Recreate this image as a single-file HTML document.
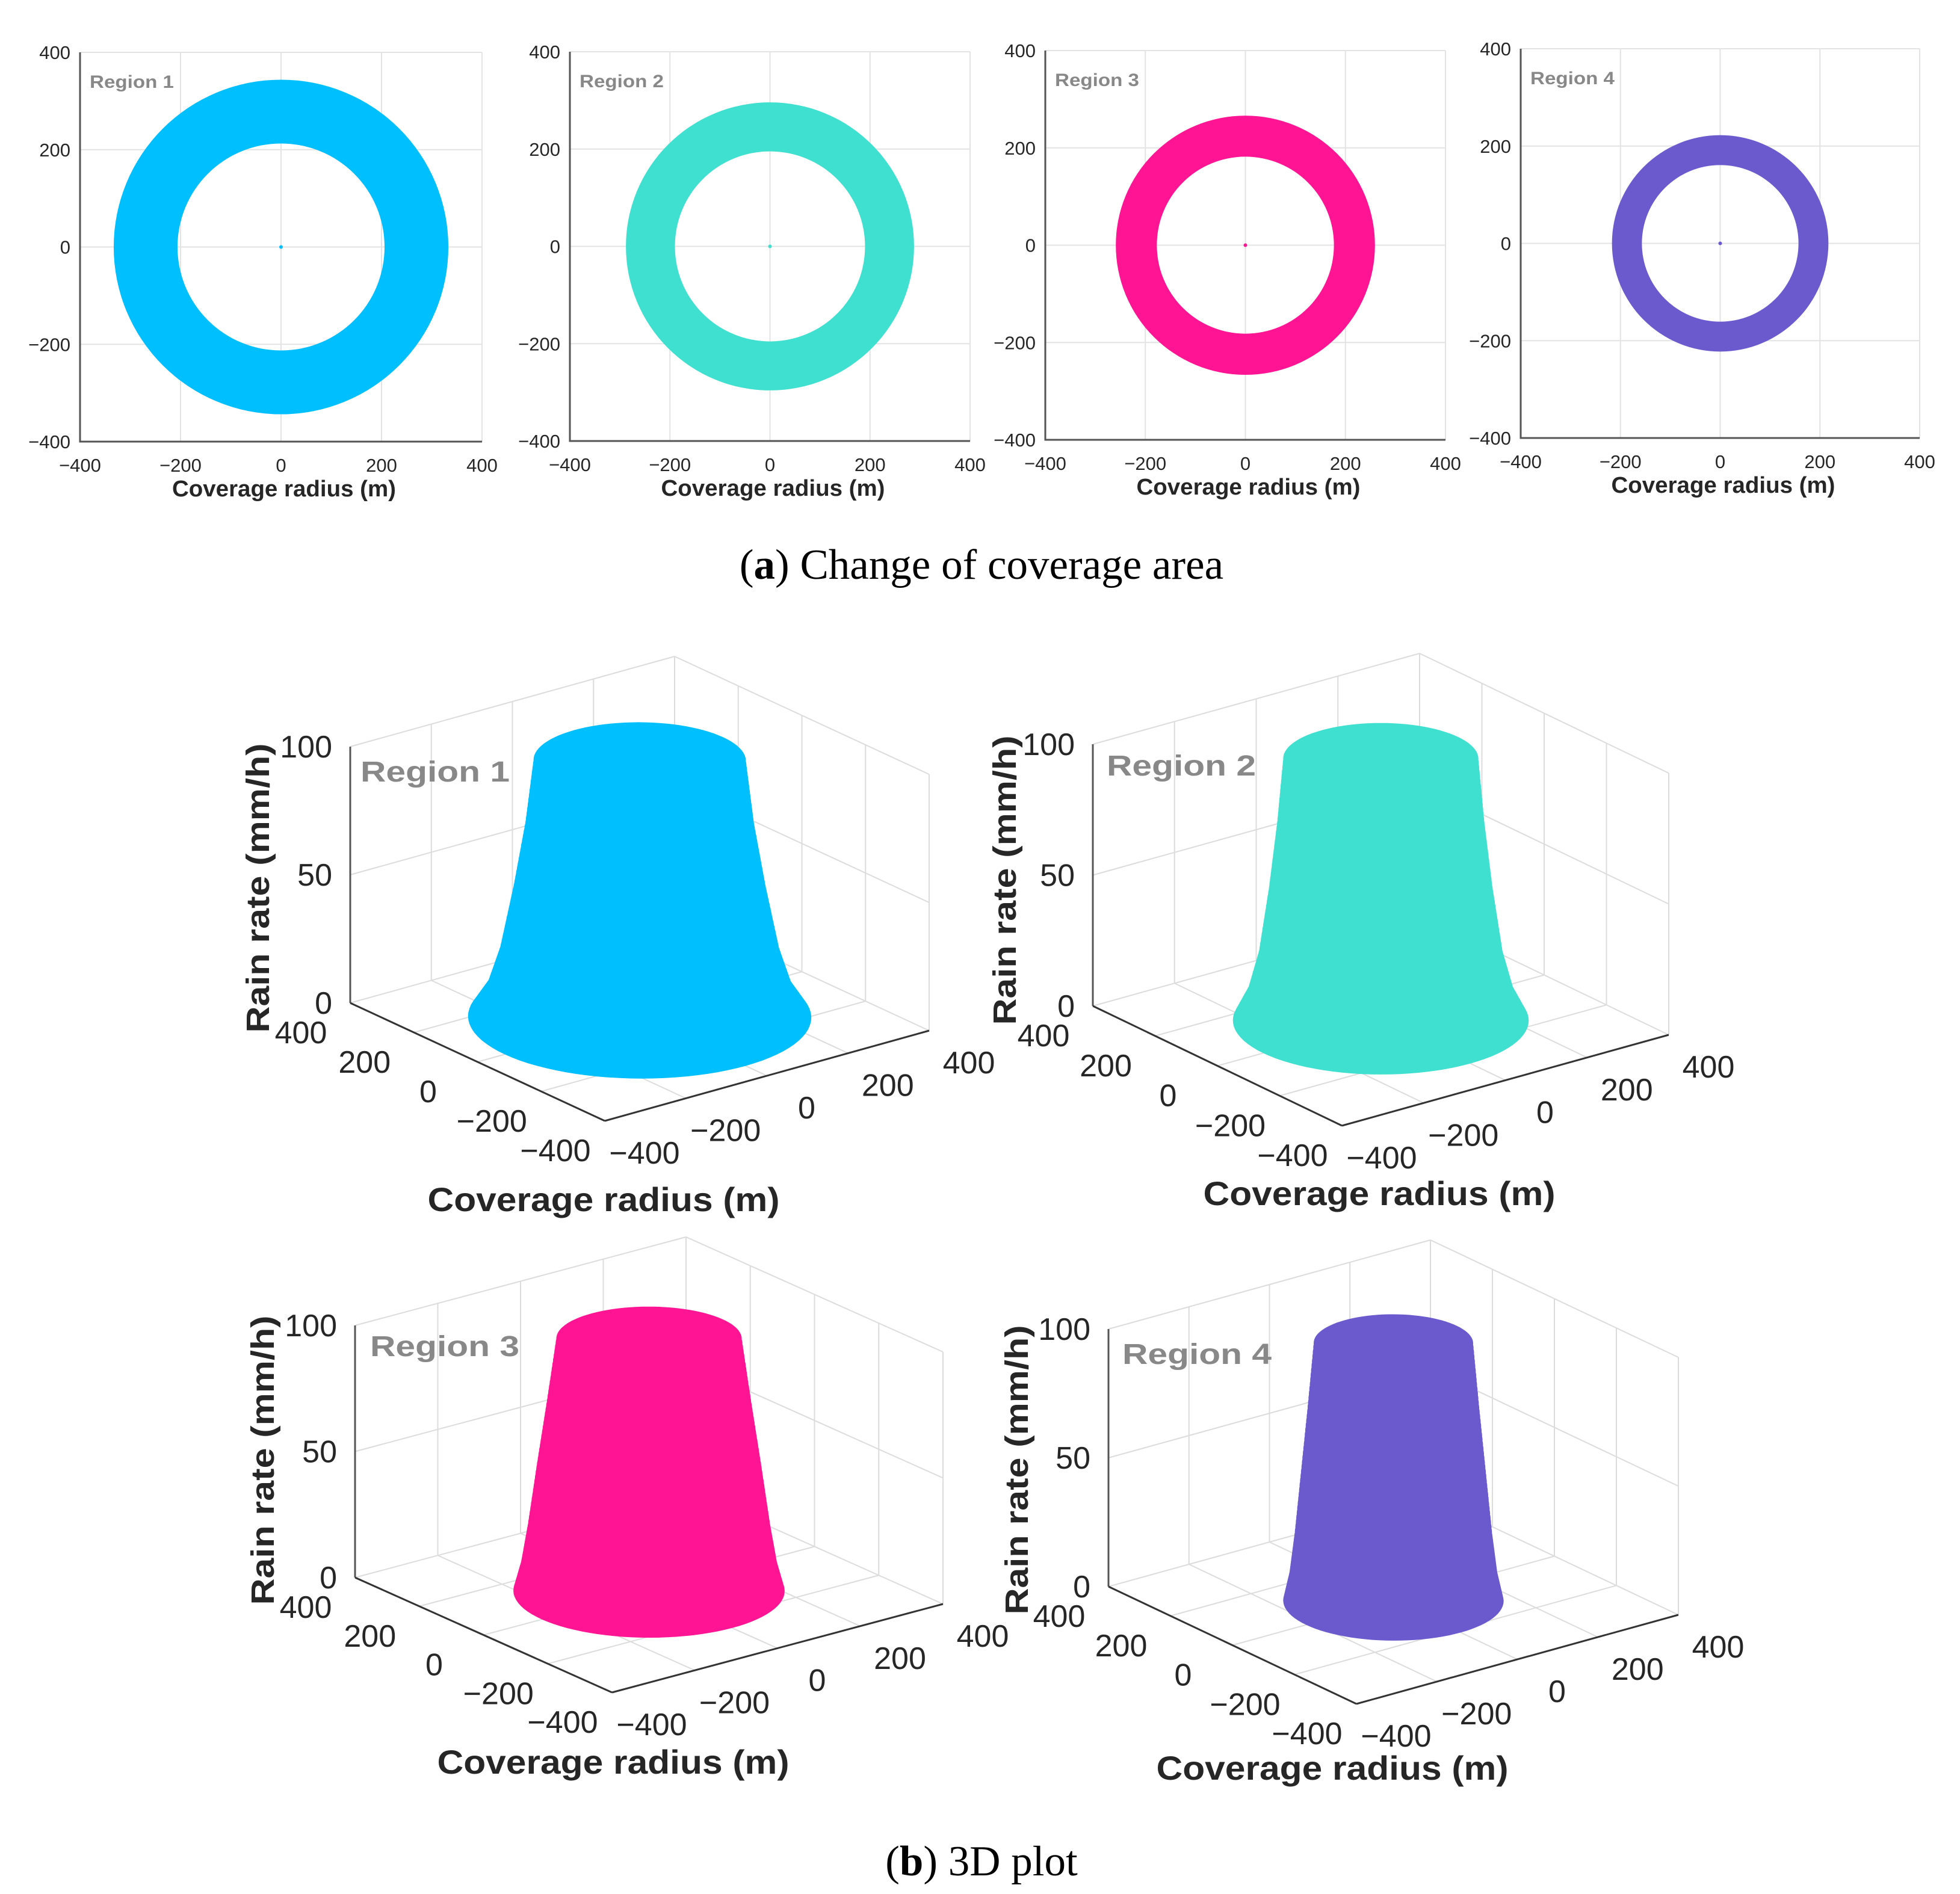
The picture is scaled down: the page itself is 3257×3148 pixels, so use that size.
<!DOCTYPE html>
<html><head><meta charset="utf-8"><style>
html,body{margin:0;padding:0;background:#fff;}
svg{display:block;font-family:"Liberation Sans",sans-serif;}
</style></head><body>
<svg id="fig" width="3257" height="3148" viewBox="0 0 3257 3148" xmlns="http://www.w3.org/2000/svg">
<text x="1631" y="962" font-family="Liberation Serif, serif" font-size="71" text-anchor="middle" fill="#000">(<tspan font-weight="bold">a</tspan>) Change of coverage area</text>
<text x="1631" y="3117" font-family="Liberation Serif, serif" font-size="71" text-anchor="middle" fill="#000">(<tspan font-weight="bold">b</tspan>) 3D plot</text>
</svg>
<script>
// ---- data ----
const regionNames = ["Region 1","Region 2","Region 3","Region 4"];
const regionColors = ["#00BFFF","#40E0D0","#FF1493","#6A5ACD"];
const rainLevels = [100, 75, 50, 25, 10, 0];
const radiusR1 = [206, 222, 245, 272, 298, 333];
const radiusR2 = [190, 202, 218, 238, 260, 288];
const radiusR3 = [177, 195, 214, 232, 245, 259];
const radiusR4 = [157, 169, 182, 195, 205, 217];
const radiusProfiles = [radiusR1, radiusR2, radiusR3, radiusR4];
const xyTicks = [-400, -200, 0, 200, 400];
const zTicks = [0, 50, 100];

const NS = "http://www.w3.org/2000/svg";
const svg = document.getElementById('fig');
function mk(tag, attrs, parent){
  const e = document.createElementNS(NS, tag);
  for (const k in attrs) e.setAttribute(k, attrs[k]);
  (parent||svg).appendChild(e);
  return e;
}
const fmt = v => (v<0 ? "\u2212"+Math.abs(v) : ""+v);

// ---- 2D panels ----
const p2d = [
  {l:133, r:801, t:87},
  {l:947, r:1612, t:86},
  {l:1737, r:2402, t:84},
  {l:2527, r:3190, t:81}
];
p2d.forEach((p, i) => {
  const w = p.r - p.l, b = p.t + 647;
  const g = mk('g', {});
  
  
  const sx = v => p.l + (v + 400) / 800 * w;
  const sy = v => b - (v + 400) / 800 * (b - p.t);
  xyTicks.forEach(t => {
    if (t === -400) return;
    const gl = mk('line', {x1:sx(t), y1:p.t, x2:sx(t), y2:b, stroke:"#e3e3e3", "stroke-width":2}, g);
    
    
    const gh = mk('line', {x1:p.l, y1:sy(t), x2:p.r, y2:sy(t), stroke:"#e3e3e3", "stroke-width":2}, g);
    
    
  });
  const prof = radiusProfiles[i];
  const rin = prof[0], rout = prof[prof.length-1];
  const cx = sx(0), cy = sy(0);
  const ro = rout / 800 * w, ri = rin / 800 * w;
  const ring = mk('path', {d:`M${cx-ro},${cy}a${ro},${ro} 0 1,0 ${2*ro},0a${ro},${ro} 0 1,0 ${-2*ro},0Z M${cx-ri},${cy}a${ri},${ri} 0 1,0 ${2*ri},0a${ri},${ri} 0 1,0 ${-2*ri},0Z`, fill:regionColors[i], "fill-rule":"evenodd"}, g);
  
  
  const dot = mk('circle', {cx:cx, cy:cy, r:3, fill:regionColors[i]}, g);
  
  
  const ax = mk('path', {d:`M${p.l},${p.t}V${b}H${p.r}`, fill:"none", stroke:"#555", "stroke-width":3}, g);
  
  
  xyTicks.forEach(t => {
    const tx = mk('text', {x:sx(t), y:b+50, "font-size":31, "text-anchor":"middle", fill:"#262626"}, g);
    
    
    tx.textContent = fmt(t);
    const ty = mk('text', {x:p.l-16, y:sy(t)+11, "font-size":31, "text-anchor":"end", fill:"#262626"}, g);
    
    
    ty.textContent = fmt(t);
  });
  const tt = mk('text', {x:(p.l+p.r)/2+5, y:b+91, "font-size":38, "font-weight":"bold", "text-anchor":"middle", fill:"#262626", textLength:372, lengthAdjust:"spacingAndGlyphs"}, g);
  
  
  tt.textContent = "Coverage radius (m)";
  const rl = mk('text', {x:p.l+16, y:p.t+59, "font-size":30, "font-weight":"bold", fill:"#888", textLength:140, lengthAdjust:"spacingAndGlyphs"}, g);
  
  
  rl.textContent = regionNames[i];
});

// ---- 3D panels ----
const p3d = [
  {L:[582,1667], T:[582,1241], F:[1005,1863], R:[1544,1713], tx:1003, ty:2013, zx:429, zy:1476, rx:599, ry:1299},
  {L:[1816,1672], T:[1816,1237], F:[2230,1871], R:[2773,1720], tx:2292, ty:2003, zx:1670, zy:1463, rx:1839, ry:1289},
  {L:[590,2622], T:[590,2203], F:[1017,2813], R:[1567,2666], tx:1019, ty:2948, zx:437, zy:2427, rx:615, ry:2254},
  {L:[1842,2637], T:[1842,2209], F:[2254,2832], R:[2789,2684], tx:2214, ty:2958, zx:1690, zy:2443, rx:1865, ry:2267}
];
p3d.forEach((p, i) => {
  const g = mk('g', {});
  
  
  const P = (u, v, z) => {
    const a = (u + 400) / 800, c = (v + 400) / 800, h = z / 100;
    return [p.F[0] + a*(p.R[0]-p.F[0]) + c*(p.L[0]-p.F[0]) + h*(p.T[0]-p.L[0]),
            p.F[1] + a*(p.R[1]-p.F[1]) + c*(p.L[1]-p.F[1]) + h*(p.T[1]-p.L[1])];
  };
  const line = (A, B, col, w, name) => {
    const e = mk('line', {x1:A[0], y1:A[1], x2:B[0], y2:B[1], stroke:col, "stroke-width":w}, g);
    
    
  };
  const GC = "#dcdcdc";
  xyTicks.forEach(t => {
    line(P(t, 400, 0), P(t, 400, 100), GC, 2, 'wall-gridline');
    line(P(400, t, 0), P(400, t, 100), GC, 2, 'wall-gridline');
    if (t > -400) {
      line(P(t, -400, 0), P(t, 400, 0), GC, 2, 'floor-gridline');
      line(P(-400, t, 0), P(400, t, 0), GC, 2, 'floor-gridline');
    }
  });
  zTicks.forEach(z => {
    if (z === 0) return;
    line(P(-400, 400, z), P(400, 400, z), GC, 2, 'wall-gridline');
    line(P(400, 400, z), P(400, -400, z), GC, 2, 'wall-gridline');
  });
  const prof = radiusProfiles[i];
  const levels = [];
  for (let k = rainLevels.length - 1; k > 0; k--) {
    const z0 = rainLevels[k], z1 = rainLevels[k-1], r0 = prof[k], r1 = prof[k-1];
    for (let s = 0; s < 14; s++) {
      const f = s / 14;
      levels.push([z0 + (z1 - z0) * f, r0 + (r1 - r0) * f]);
    }
  }
  levels.push([rainLevels[0], prof[0]]);
  const sg = mk('g', {fill:regionColors[i]}, g);
  
  
  levels.forEach(([z, r]) => {
    let d = "";
    for (let a = 0; a < 96; a++) {
      const th = a / 96 * 2 * Math.PI;
      const q = P(r*Math.cos(th), r*Math.sin(th), z);
      d += (a ? "L" : "M") + q[0].toFixed(1) + "," + q[1].toFixed(1);
    }
    const e = mk('path', {d:d + "Z"}, sg);
    
    
  });
  line(P(-400, 400, 0), P(-400, 400, 100), "#555", 3, 'z-axis-line');
  line(P(-400, 400, 0), P(-400, -400, 0), "#333", 3, 'y-axis-line');
  line(P(-400, -400, 0), P(400, -400, 0), "#333", 3, 'x-axis-line');
  zTicks.forEach(z => {
    const q = P(-400, 400, z);
    const e = mk('text', {x:q[0]-30, y:q[1]+18, "font-size":52, "text-anchor":"end", fill:"#262626"}, g);
    
    
    e.textContent = fmt(z);
  });
  xyTicks.forEach(t => {
    const q = P(-400, t, 0);
    const e = mk('text', {x:q[0]-82, y:q[1]+67, "font-size":52, "text-anchor":"middle", fill:"#262626"}, g);
    
    
    e.textContent = fmt(t);
    const q2 = P(t, -400, 0);
    const e2 = mk('text', {x:q2[0]+66, y:q2[1]+71, "font-size":52, "text-anchor":"middle", fill:"#262626"}, g);
    
    
    e2.textContent = fmt(t);
  });
  const tt = mk('text', {x:p.tx, y:p.ty, "font-size":56, "font-weight":"bold", "text-anchor":"middle", fill:"#262626", textLength:585, lengthAdjust:"spacingAndGlyphs"}, g);
  
  
  tt.textContent = "Coverage radius (m)";
  const zt = mk('text', {x:p.zx+18, y:p.zy, "font-size":54, "font-weight":"bold", "text-anchor":"middle", fill:"#262626", textLength:481, lengthAdjust:"spacingAndGlyphs", transform:`rotate(-90 ${p.zx+18} ${p.zy})`}, g);
  
  
  zt.textContent = "Rain rate (mm/h)";
  const rl = mk('text', {x:p.rx, y:p.ry, "font-size":48, "font-weight":"bold", fill:"#888", textLength:248, lengthAdjust:"spacingAndGlyphs"}, g);
  
  
  rl.textContent = regionNames[i];
});
</script>
</body></html>
